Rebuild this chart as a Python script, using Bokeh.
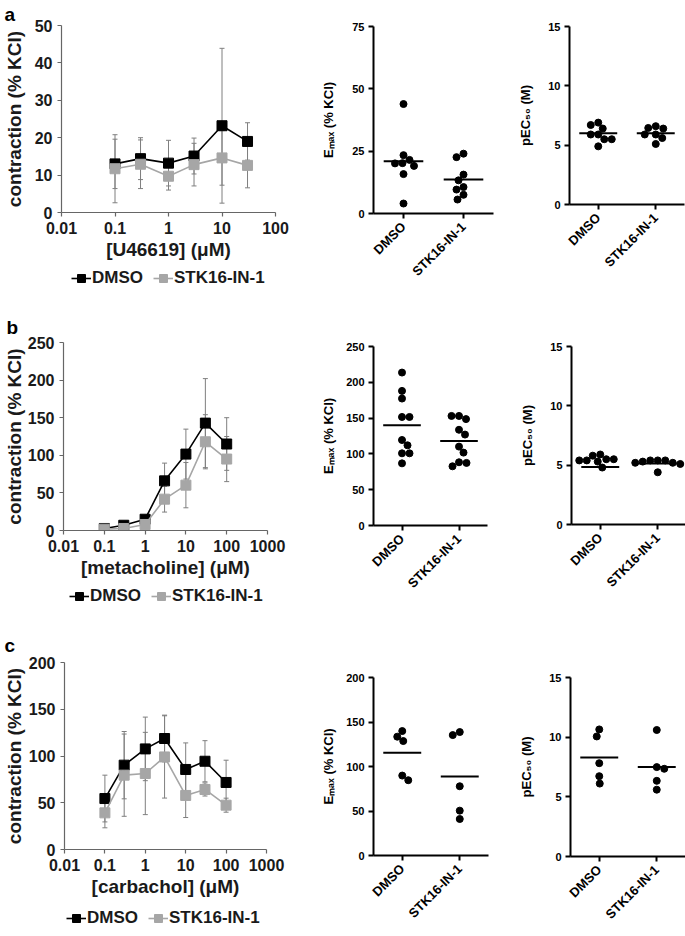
import math
from bokeh.plotting import figure
from bokeh.layouts import row, column
from bokeh.models import (FixedTicker, CustomJSTickFormatter, Whisker, TeeHead,
                          ColumnDataSource, Legend, LegendItem, Range1d)
from bokeh.embed import file_html
from bokeh.resources import INLINE

FONT = "Liberation Sans"
GRAY = "#a6a6a6"
ERR = "#7f7f7f"

# ---------------- data ----------------
groups = ["DMSO", "STK16-IN-1"]

# panel a: U46619
conc_a = [0.1, 0.3, 1, 3, 10, 30]
a_dmso = [13.0, 14.4, 13.2, 15.1, 23.2, 19.0]
a_dmso_err = [6.6, 5.6, 6.1, 4.8, 20.7, 5.0]
a_stk = [11.7, 12.9, 9.7, 12.8, 14.6, 12.6]
a_stk_err = [9.1, 6.5, 3.7, 5.7, 7.3, 6.0]
a_yticks = [0, 10, 20, 30, 40, 50]
a_xdecades = [0.01, 0.1, 1, 10, 100]

# panel b: metacholine
conc_b = [0.1, 0.3, 1, 3, 10, 30, 100]
b_dmso = [2.7, 7.0, 15.0, 66.0, 101.6, 142.8, 115.0]
b_dmso_err = [1.5, 2.5, 3.0, 23.6, 33.2, 59.2, 35.0]
b_stk = [1.8, 2.7, 8.0, 41.7, 60.3, 118.0, 95.0]
b_stk_err = [1.5, 2.0, 3.0, 17.2, 30.1, 36.0, 30.0]
b_yticks = [0, 50, 100, 150, 200, 250]
b_xdecades = [0.01, 0.1, 1, 10, 100, 1000]

# panel c: carbachol
conc_c = [0.1, 0.3, 1, 3, 10, 30, 100]
c_dmso = [54.5, 90.2, 107.6, 118.7, 85.6, 94.4, 71.7]
c_dmso_err = [25.0, 36.0, 34.0, 25.0, 28.4, 22.0, 23.8]
c_stk = [39.2, 79.5, 81.3, 99.0, 57.8, 64.2, 47.4]
c_stk_err = [16.0, 44.0, 44.0, 44.0, 23.6, 7.0, 7.5]
c_yticks = [0, 50, 100, 150, 200]
c_xdecades = [0.01, 0.1, 1, 10, 100, 1000]

# scatter panels (Emax, pEC50)
emax_a_dmso = [43.9, 21.5, 20.1, 19.1, 20.2, 23.4, 15.8, 4.0]
emax_a_stk = [24.0, 22.6, 15.6, 13.3, 10.6, 9.6, 7.5, 5.6]
emax_a_lines = [21.0, 13.6]
emax_a_yticks = [0, 25, 50, 75]
pec_a_dmso = [6.9, 6.4, 6.7, 5.9, 5.5, 5.5, 5.9, 4.9]
pec_a_stk = [6.4, 6.6, 6.45, 5.9, 5.9, 5.6, 5.1]
pec_a_lines = [6.0, 6.0]

emax_b_dmso = [213.6, 188.0, 177.3, 151.6, 151.6, 119.4, 112.0, 100.8, 100.8, 86.8]
emax_b_stk = [153.0, 148.6, 153.0, 133.7, 127.0, 110.2, 101.8, 88.3, 82.7, 87.4]
emax_b_lines = [140.0, 118.0]
emax_b_yticks = [0, 50, 100, 150, 200, 250]
pec_b_dmso = [5.5, 5.9, 5.5, 4.8, 5.3, 5.4, 5.8, 5.4]
pec_b_stk = [5.3, 5.4, 5.4, 5.1, 5.2, 5.4, 5.2, 4.4]
pec_b_lines = [4.85, 5.15]

emax_c_dmso = [139.8, 133.5, 128.6, 84.6, 89.8]
emax_c_stk = [138.7, 135.3, 77.8, 50.4, 41.0]
emax_c_lines = [115.5, 88.7]
emax_c_yticks = [0, 50, 100, 150, 200]
pec_c_dmso = [10.65, 10.06, 7.82, 6.73, 6.11]
pec_c_stk = [10.6, 7.35, 7.49, 6.34, 5.6]
pec_c_lines = [8.3, 7.5]

pec_yticks = [0, 5, 10, 15]


def base_fig(fw, fh, left, right, top, bottom, **kw):
    p = figure(frame_width=fw, frame_height=fh, output_backend="svg", toolbar_location=None,
               min_border_left=left, min_border_right=right, min_border_top=top,
               min_border_bottom=bottom, **kw)
    p.outline_line_color = None
    p.grid.visible = False
    p.background_fill_color = "white"
    p.border_fill_color = "white"
    return p


def legend_fig(conc, dm, st, width, height, x_off):
    # legend strip under the curve panel; series sit outside its (empty) y-range
    q = figure(width=width, height=height, output_backend="svg", toolbar_location=None,
               x_range=Range1d(0, 1), y_range=Range1d(-2, -1),
               x_axis_location=None, y_axis_location=None,
               min_border_left=0, min_border_right=0, min_border_top=0, min_border_bottom=0)
    q.outline_line_color = None
    q.grid.visible = False
    q.border_fill_color = "white"
    q.background_fill_color = "white"
    l1 = q.line(conc, dm, line_color="black", line_width=1.6)
    s1 = q.scatter(conc, dm, marker="square", size=10, fill_color="black", line_color="black")
    l2 = q.line(conc, st, line_color=GRAY, line_width=1.6)
    s2 = q.scatter(conc, st, marker="square", size=10, fill_color=GRAY, line_color=GRAY)
    leg = Legend(items=[LegendItem(label=groups[0], renderers=[l1, s1]),
                        LegendItem(label=groups[1], renderers=[l2, s2])],
                 orientation="horizontal", location=(x_off, 0))
    leg.label_text_font = FONT
    leg.label_text_font_style = "bold"
    leg.label_text_font_size = "17px"
    leg.label_text_color = "#1a1a1a"
    leg.glyph_width = 20
    leg.glyph_height = 26
    leg.label_standoff = 1
    leg.spacing = 10
    leg.padding = 0
    leg.margin = 0
    leg.border_line_color = None
    leg.background_fill_alpha = 0
    q.add_layout(leg)
    return q


def line_panel(letter, conc, dm, dm_err, st, st_err, decades, yticks, xlabel,
               fw, fh, left, right, top, bottom, ylab_standoff, letter_standoff):
    p = base_fig(fw, fh, left, right, top, bottom, x_axis_type="log",
                 x_range=Range1d(decades[0], decades[-1]), y_range=Range1d(yticks[0], yticks[-1]))
    p.title.text = letter
    p.title.align = "left"
    p.title.offset = -(left - 3)
    p.title.standoff = letter_standoff
    p.title.text_font = FONT
    p.title.text_font_style = "bold"
    p.title.text_font_size = "19px"
    p.title.text_color = "black"
    for ax in (p.xaxis[0], p.yaxis[0]):
        ax.axis_line_color = "#666666"
        ax.axis_line_width = 1.2
        ax.major_tick_line_color = "#666666"
        ax.major_tick_line_width = 1.2
        ax.major_tick_out = 4
        ax.major_tick_in = 0
        ax.minor_tick_line_color = None
        ax.major_label_text_font = FONT
        ax.major_label_text_font_style = "bold"
        ax.major_label_text_font_size = "16px"
        ax.major_label_text_color = "#1a1a1a"
        ax.axis_label_text_font = FONT
        ax.axis_label_text_font_style = "bold"
        ax.axis_label_text_font_size = "19px"
        ax.axis_label_text_color = "#1a1a1a"
    p.xaxis.ticker = FixedTicker(ticks=decades)
    p.xaxis.formatter = CustomJSTickFormatter(code="return String(tick);")
    p.yaxis.ticker = FixedTicker(ticks=yticks)
    p.xaxis.axis_label = xlabel
    p.xaxis.axis_label_standoff = 2
    p.xaxis.major_label_standoff = 5
    p.yaxis.axis_label = "contraction (% KCl)"
    p.yaxis.axis_label_standoff = ylab_standoff

    for vals, errs in ((dm, dm_err), (st, st_err)):
        src = ColumnDataSource(dict(x=conc, u=[v + e for v, e in zip(vals, errs)],
                                    l=[v - e for v, e in zip(vals, errs)]))
        w = Whisker(base="x", upper="u", lower="l", source=src, dimension="height",
                    line_color=ERR, line_width=1, level="underlay",
                    upper_head=TeeHead(size=5, line_color=ERR, line_width=1),
                    lower_head=TeeHead(size=5, line_color=ERR, line_width=1))
        p.add_layout(w)

    p.line(conc, dm, line_color="black", line_width=1.6)
    p.scatter(conc, dm, marker="square", size=10, fill_color="black", line_color="black")
    p.line(conc, st, line_color=GRAY, line_width=1.6)
    p.scatter(conc, st, marker="square", size=10, fill_color=GRAY, line_color=GRAY)
    return p


def swarm(vals, ppy, d):
    placed = []
    offs = [0.0] * len(vals)
    order = sorted(range(len(vals)), key=lambda i: -vals[i])
    for n, i in enumerate(order):
        y = vals[i] * ppy
        k = 0
        found = None
        while found is None:
            cands = [0.0] if k == 0 else ([k * 0.5, -k * 0.5] if n % 2 == 0 else [-k * 0.5, k * 0.5])
            for c in cands:
                if all((c - px) ** 2 + (y - py) ** 2 >= d * d for px, py in placed):
                    found = c
                    break
            k += 1
        placed.append((found, y))
        offs[i] = found
    return offs


def dot_panel(dm, st, lines, yticks, ylabel, fw, fh, left, right, top, bottom, ylab_standoff):
    p = base_fig(fw, fh, left, right, top, bottom,
                 x_range=Range1d(-0.5, 1.5), y_range=Range1d(yticks[0], yticks[-1]))
    ppx = fw / 2.0
    ppy = fh / float(yticks[-1])
    xs, ys = [], []
    for ci, vals in enumerate((dm, st)):
        offs = swarm(vals, ppy, 7.4)
        xs += [ci + o / ppx for o in offs]
        ys += list(vals)
    for ax in (p.xaxis[0], p.yaxis[0]):
        ax.axis_line_color = "black"
        ax.axis_line_width = 2
        ax.major_tick_line_color = "black"
        ax.major_tick_line_width = 2
        ax.major_tick_out = 5
        ax.major_tick_in = 0
        ax.minor_tick_line_color = None
        ax.major_label_text_font = FONT
        ax.major_label_text_font_style = "bold"
        ax.major_label_text_color = "black"
        ax.axis_label_text_font = FONT
        ax.axis_label_text_font_style = "bold"
        ax.axis_label_text_font_size = "13px"
        ax.axis_label_text_color = "black"
    p.yaxis.major_label_text_font_size = "11px"
    p.xaxis.major_label_text_font_size = "13px"
    p.yaxis.ticker = FixedTicker(ticks=yticks)
    p.xaxis.ticker = FixedTicker(ticks=[0, 1])
    p.xaxis.major_label_overrides = {0: groups[0], 1: groups[1]}
    p.xaxis.major_label_orientation = math.pi / 4
    p.xaxis.major_label_standoff = 6
    p.yaxis.major_label_standoff = 4
    p.yaxis.axis_label = ylabel
    p.yaxis.axis_label_standoff = ylab_standoff
    p.segment(x0=[c - 0.33 for c in (0, 1)], y0=lines, x1=[c + 0.33 for c in (0, 1)], y1=lines,
              line_color="black", line_width=2)
    p.scatter(xs, ys, size=7, fill_color="black", line_color="black")
    return p


EMAX = "E\u2098\u2090\u2093 (% KCl)"
PEC = "pEC\u2085\u2080 (M)"

# row a (height 300)
la = line_panel("a", conc_a, a_dmso, a_dmso_err, a_stk, a_stk_err, a_xdecades, a_yticks,
                "[U46619] (\u03bcM)", 214, 187, 60, 26, 24, 53, 7, 2)
ga = legend_fig(conc_a, a_dmso, a_stk, 300, 26, 10)
ea = dot_panel(emax_a_dmso, emax_a_stk, emax_a_lines, emax_a_yticks, EMAX, 120, 187, 72, 13, 26, 87, 13)
pa = dot_panel(pec_a_dmso, pec_a_stk, pec_a_lines, pec_yticks, PEC, 115, 178, 63, 1, 25, 97, 12)

# row b (height 310)
lb = line_panel("b", conc_b, b_dmso, b_dmso_err, b_stk, b_stk_err, b_xdecades, b_yticks,
                "[metacholine] (\u03bcM)", 204, 188, 60, 36, 42, 53, 0, 9)
gb = legend_fig(conc_b, b_dmso, b_stk, 300, 26, 6)
eb = dot_panel(emax_b_dmso, emax_b_stk, emax_b_lines, emax_b_yticks, EMAX, 114, 179, 70, 21, 46, 85, 7)
pb = dot_panel(pec_b_dmso, pec_b_stk, pec_b_lines, pec_yticks, PEC, 115, 178, 63, 2, 43, 89, 12)

# row c (height 325)
lc = line_panel("c", conc_c, c_dmso, c_dmso_err, c_stk, c_stk_err, c_xdecades, c_yticks,
                "[carbachol] (\u03bcM)", 202, 187, 63, 35, 52, 56, 1, 13)
gc = legend_fig(conc_c, c_dmso, c_stk, 300, 26, 2)
ec = dot_panel(emax_c_dmso, emax_c_stk, emax_c_lines, emax_c_yticks, EMAX, 115, 178, 72, 18, 67, 80, 7)
pc = dot_panel(pec_c_dmso, pec_c_stk, pec_c_lines, pec_yticks, PEC, 115, 179, 64, 0, 67, 79, 12)

layout = column(row(column(la, ga, spacing=0), ea, pa, spacing=0),
                row(column(lb, gb, spacing=0), eb, pb, spacing=0),
                row(column(lc, gc, spacing=0), ec, pc, spacing=0), spacing=0)

open("out.html", "w").write(file_html(layout, INLINE))
